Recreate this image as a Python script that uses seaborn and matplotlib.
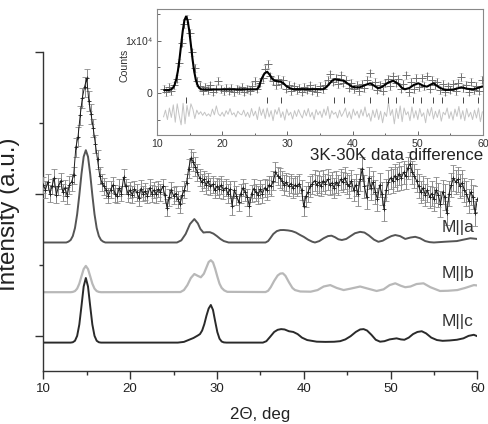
import numpy as np
import matplotlib
matplotlib.use("Agg")
import matplotlib.pyplot as plt
import seaborn as sns
from matplotlib.ticker import MultipleLocator, FixedLocator

# ---------------- main panel: 3K-30K difference data (step 0.25 deg from 10) ----------------
diff_start, diff_step = 10.0, 0.25
diff_y = [
    2.62, 2.55, 2.66, 2.50, 2.60, 2.72, 2.48, 2.60, 2.68, 2.52, 2.58, 2.47, 2.62, 2.66, 2.76, 3.15, 3.30, 3.60, 3.85, 4.00,
    4.12, 3.80, 3.62, 3.42, 3.20, 2.98, 2.75, 2.65, 2.60, 2.55, 2.47, 2.55, 2.62, 2.50, 2.47, 2.58, 2.50, 2.73, 2.60, 2.50,
    2.55, 2.48, 2.56, 2.52, 2.44, 2.57, 2.50, 2.53, 2.47, 2.58, 2.50, 2.55, 2.49, 2.56, 2.52, 2.60, 2.48, 2.30, 2.45, 2.55,
    2.47, 2.50, 2.42, 2.35, 2.48, 2.55, 2.65, 2.85, 3.00, 2.95, 2.88, 2.80, 2.72, 2.66, 2.70, 2.62, 2.67, 2.60, 2.63, 2.55,
    2.60, 2.57, 2.62, 2.55, 2.58, 2.50, 2.56, 2.33, 2.55, 2.47, 2.38, 2.50, 2.58, 2.52, 2.45, 2.32, 2.50, 2.57, 2.52, 2.48,
    2.56, 2.50, 2.58, 2.55, 2.62, 2.60, 2.68, 2.80, 2.75, 2.72, 2.68, 2.62, 2.66, 2.60, 2.64, 2.58, 2.62, 2.60, 2.64, 2.55,
    2.32, 2.46, 2.52, 2.60, 2.64, 2.68, 2.62, 2.66, 2.60, 2.68, 2.64, 2.70, 2.62, 2.65, 2.58, 2.66, 2.62, 2.70, 2.66, 2.72,
    2.64, 2.60, 2.68, 2.55, 2.62, 2.50, 2.70, 2.85, 2.60, 2.45, 2.72, 2.58, 2.66, 2.52, 2.42, 2.62, 2.50, 2.28, 2.55, 2.66,
    2.72, 2.68, 2.75, 2.70, 2.78, 2.72, 2.80, 2.74, 2.86, 2.92, 2.80, 2.75, 2.68, 2.60, 2.52, 2.58, 2.48, 2.55, 2.45, 2.50,
    2.42, 2.55, 2.48, 2.35, 2.52, 2.45, 2.22, 2.50, 2.62, 2.72, 2.66, 2.70, 2.60, 2.65, 2.55, 2.50, 2.40, 2.52, 2.45, 2.22,
    2.42,
]
diff_err = [
    0.11, 0.12, 0.11, 0.12, 0.11, 0.12, 0.11, 0.12, 0.11, 0.12, 0.11, 0.12, 0.12, 0.12, 0.12, 0.13, 0.13, 0.13, 0.14, 0.14,
    0.14, 0.14, 0.14, 0.13, 0.13, 0.13, 0.12, 0.12, 0.12, 0.12, 0.11, 0.12, 0.11, 0.12, 0.11, 0.12, 0.11, 0.12, 0.11, 0.12,
    0.11, 0.12, 0.11, 0.12, 0.11, 0.12, 0.11, 0.12, 0.11, 0.12, 0.12, 0.11, 0.12, 0.11, 0.12, 0.11, 0.12, 0.12, 0.12, 0.11,
    0.12, 0.11, 0.12, 0.12, 0.12, 0.12, 0.12, 0.13, 0.13, 0.13, 0.13, 0.12, 0.12, 0.12, 0.12, 0.12, 0.12, 0.12, 0.12, 0.12,
    0.12, 0.13, 0.12, 0.13, 0.12, 0.13, 0.12, 0.13, 0.12, 0.13, 0.12, 0.13, 0.12, 0.13, 0.12, 0.13, 0.12, 0.13, 0.12, 0.13,
    0.13, 0.14, 0.13, 0.14, 0.13, 0.14, 0.13, 0.14, 0.13, 0.14, 0.13, 0.14, 0.13, 0.14, 0.13, 0.14, 0.13, 0.14, 0.13, 0.14,
    0.14, 0.15, 0.14, 0.15, 0.14, 0.15, 0.14, 0.15, 0.14, 0.15, 0.14, 0.15, 0.14, 0.15, 0.14, 0.15, 0.14, 0.15, 0.14, 0.15,
    0.15, 0.16, 0.15, 0.16, 0.15, 0.17, 0.16, 0.17, 0.16, 0.17, 0.16, 0.17, 0.16, 0.17, 0.16, 0.17, 0.16, 0.17, 0.16, 0.17,
    0.16, 0.17, 0.16, 0.17, 0.16, 0.17, 0.16, 0.17, 0.16, 0.17, 0.16, 0.17, 0.16, 0.17, 0.16, 0.17, 0.16, 0.17, 0.16, 0.17,
    0.17, 0.18, 0.17, 0.18, 0.17, 0.18, 0.17, 0.18, 0.17, 0.18, 0.17, 0.18, 0.17, 0.18, 0.17, 0.18, 0.17, 0.18, 0.17, 0.18,
    0.18,
]

# ---------------- simulated patterns (2theta, intensity a.u.) ----------------
ma_pts = [(10.0, 1.81), (12.65, 1.81), (12.9, 1.822), (13.15, 1.845), (13.4, 1.901), (13.65, 2.014), (13.9, 2.208),
          (14.15, 2.478), (14.4, 2.777), (14.65, 3.018), (14.9, 3.11), (15.15, 3.018), (15.4, 2.777), (15.65, 2.478),
          (15.9, 2.208), (16.15, 2.014), (16.4, 1.901), (16.65, 1.845), (16.9, 1.822), (17.15, 1.81), (25.4, 1.81),
          (25.9, 1.84), (26.4, 1.93), (26.9, 2.07), (27.4, 2.14), (27.8, 2.08), (28.1, 2.0), (28.45, 1.95),
          (28.8, 1.955), (29.2, 1.955), (29.6, 1.935), (30.0, 1.9), (30.4, 1.86), (30.8, 1.83), (31.35, 1.81),
          (35.6, 1.81), (35.9, 1.83), (36.15, 1.87), (36.5, 1.93), (36.9, 1.97), (37.3, 1.985), (37.7, 1.986),
          (38.2, 1.98), (38.65, 1.97), (39.1, 1.95), (39.6, 1.915), (40.0, 1.89), (40.5, 1.85), (41.0, 1.82),
          (41.3, 1.81), (41.8, 1.83), (42.3, 1.87), (42.8, 1.9), (43.2, 1.906), (43.6, 1.885), (44.0, 1.855),
          (44.4, 1.845), (44.9, 1.86), (45.4, 1.9), (45.9, 1.94), (46.5, 1.96), (47.0, 1.95), (47.5, 1.91),
          (48.1, 1.85), (48.6, 1.82), (49.1, 1.835), (49.6, 1.87), (50.1, 1.9), (50.55, 1.915), (51.1, 1.9),
          (51.7, 1.86), (52.3, 1.88), (52.85, 1.89), (53.4, 1.87), (54.0, 1.83), (54.5, 1.815), (55.0, 1.81),
          (55.6, 1.815), (56.2, 1.82), (56.9, 1.825), (57.65, 1.83), (58.4, 1.85), (59.2, 1.87), (60.0, 1.86)]
mb_pts = [(10.0, 1.11), (13.15, 1.11), (13.4, 1.114), (13.65, 1.126), (13.9, 1.16), (14.15, 1.23), (14.4, 1.335),
          (14.65, 1.436), (14.9, 1.48), (15.15, 1.436), (15.4, 1.335), (15.65, 1.23), (15.9, 1.16), (16.15, 1.126),
          (16.4, 1.114), (16.65, 1.11), (25.8, 1.112), (26.2, 1.14), (26.6, 1.21), (27.0, 1.31), (27.4, 1.366),
          (27.8, 1.34), (28.15, 1.32), (28.5, 1.37), (28.8, 1.46), (29.05, 1.535), (29.3, 1.56), (29.55, 1.53),
          (29.8, 1.44), (30.05, 1.33), (30.3, 1.23), (30.55, 1.17), (30.85, 1.135), (31.2, 1.115), (35.6, 1.112),
          (35.9, 1.13), (36.2, 1.18), (36.6, 1.27), (37.0, 1.345), (37.3, 1.372), (37.6, 1.376), (37.9, 1.34),
          (38.3, 1.25), (38.7, 1.17), (39.0, 1.14), (39.6, 1.12), (40.8, 1.117), (41.6, 1.14), (42.3, 1.19),
          (43.06, 1.21), (43.8, 1.17), (44.6, 1.14), (45.4, 1.16), (46.5, 1.19), (47.4, 1.16), (48.4, 1.127),
          (49.2, 1.15), (49.9, 1.21), (50.55, 1.235), (51.2, 1.2), (51.7, 1.18), (52.3, 1.19), (53.0, 1.225),
          (53.8, 1.235), (54.6, 1.18), (55.7, 1.127), (56.6, 1.13), (57.7, 1.14), (58.6, 1.17), (59.6, 1.21),
          (60.0, 1.205)]
mc_pts = [(10.0, 0.40), (13.15, 0.40), (13.4, 0.405), (13.65, 0.426), (13.9, 0.495), (14.15, 0.655), (14.4, 0.917),
          (14.65, 1.19), (14.9, 1.31), (15.15, 1.19), (15.4, 0.917), (15.65, 0.655), (15.9, 0.495), (16.15, 0.426),
          (16.4, 0.405), (16.65, 0.40), (25.5, 0.40), (26.2, 0.41), (26.8, 0.44), (27.3, 0.465), (27.8, 0.50),
          (28.05, 0.52), (28.3, 0.57), (28.55, 0.66), (28.8, 0.78), (29.05, 0.88), (29.3, 0.93), (29.55, 0.86),
          (29.8, 0.70), (30.05, 0.548), (30.3, 0.455), (30.55, 0.415), (30.8, 0.403), (31.1, 0.40), (35.3, 0.40),
          (35.7, 0.42), (36.15, 0.484), (36.6, 0.55), (37.0, 0.58), (37.4, 0.59), (37.8, 0.585), (38.3, 0.56),
          (38.8, 0.55), (39.3, 0.52), (39.8, 0.47), (40.4, 0.436), (41.5, 0.413), (42.5, 0.41), (43.5, 0.412),
          (44.2, 0.42), (44.8, 0.445), (45.4, 0.49), (46.0, 0.55), (46.5, 0.585), (46.9, 0.59), (47.3, 0.57),
          (47.8, 0.51), (48.3, 0.44), (48.8, 0.413), (49.3, 0.42), (49.9, 0.445), (50.7, 0.46), (51.2, 0.445),
          (51.6, 0.44), (52.1, 0.47), (52.6, 0.52), (53.1, 0.55), (53.6, 0.56), (54.1, 0.53), (54.7, 0.47),
          (55.35, 0.436), (56.0, 0.425), (56.8, 0.43), (57.65, 0.44), (58.4, 0.46), (59.0, 0.495), (59.6, 0.51),
          (60.0, 0.49)]
curve_labels = ["M||a", "M||b", "M||c"]

# ---------------- inset: counts in thousands ----------------
obs_start, obs_step = 11.0, 0.4
obs_counts_k = [
    0.9, 0.2, 1.2, 0.4, 1.5, 2.8, 5.8, 9.6, 13.2, 14.2,
    11.5, 7.8, 4.8, 2.4, 1.4, 0.5, 1.2, 0.6, 1.5, 0.3,
    0.9, 2.4, 0.8, 0.4, 1.1, 0.5, 1.0, 0.2, 0.9, 0.6,
    1.2, 0.3, 0.8, 0.5, 1.4, 2.4, 0.9, 2.0, 3.0, 4.6,
    5.6, 3.2, 2.4, 1.6, 2.8, 1.8, 2.5, 0.9, 1.6, 0.4,
    1.3, 0.6, 1.0, 0.3, 1.2, 0.7, 1.5, 0.5, 1.1, 0.2,
    1.4, 0.8, 1.6, 2.6, 3.6, 2.2, 3.0, 1.8, 3.4, 2.0,
    2.6, 1.1, 2.0, 0.8, 1.6, 0.4, 1.8, 1.0, 2.6, 3.8,
    1.5, 2.2, 0.7, 1.6, 0.5, 1.9, 2.8, 1.4, 3.2, 2.0,
    2.7, 0.9, 1.8, 3.4, 0.2, 2.2, 0.8, 2.9, 1.2, 3.0,
    1.4, 3.2, 0.9, 2.6, 1.6, 2.2, 0.6, 1.8, 0.3, 1.3,
    0.7, 1.8, 0.4, 2.0, 3.1, 1.0, 1.6, 0.3, 2.2, 0.6,
    1.4, 0.5, 2.6,
]
fit_pts = [(11.1, 0.6), (11.7, 0.62), (11.95, 0.66), (12.2, 0.77), (12.45, 1.04), (12.7, 1.59), (12.95, 2.6),
           (13.2, 4.21), (13.45, 6.49), (13.7, 9.2), (13.95, 11.87), (14.2, 13.86), (14.45, 14.6), (14.7, 13.86),
           (14.95, 11.87), (15.2, 9.2), (15.45, 6.49), (15.7, 4.21), (15.95, 2.6), (16.2, 1.59), (16.45, 1.04),
           (16.7, 0.8), (17.0, 0.72), (25.3, 0.76), (25.6, 1.1), (25.8, 1.9), (26.1, 2.9), (26.5, 3.8), (26.9, 4.1),
           (27.3, 3.5), (27.7, 2.7), (28.1, 2.4), (28.5, 2.3), (29.0, 2.2), (29.4, 1.9), (29.8, 1.4), (30.4, 0.95),
           (30.9, 0.78), (35.5, 0.78), (36.0, 1.2), (36.5, 1.9), (36.9, 2.45), (37.3, 2.66), (37.8, 2.55),
           (38.6, 2.4), (39.3, 1.8), (39.9, 1.26), (40.5, 1.12), (41.1, 1.14), (41.9, 1.55), (42.7, 1.9),
           (43.3, 1.45), (43.9, 0.95), (44.5, 1.2), (45.4, 2.0), (46.2, 2.4), (47.0, 1.8), (47.5, 1.1), (48.0, 0.76),
           (48.7, 1.0), (49.4, 1.6), (50.1, 1.9), (50.8, 1.45), (51.4, 1.26), (51.9, 1.6), (52.4, 1.9), (53.3, 1.1),
           (54.2, 0.63), (55.4, 0.7), (56.0, 0.9), (56.7, 1.14), (57.6, 0.85), (58.5, 0.76), (59.2, 1.0),
           (59.8, 1.26), (60.0, 1.3)]
res_start, res_step = 11.0, 0.3
residual_k = [
    -4.5, -3.2, -5.0, -2.8, -4.6, -2.2, -5.5, -2.0, -4.2, -6.0,
    -1.9, -5.8, -2.3, -4.4, -2.0, -3.0, -4.8, -3.2, -4.0, -3.5,
    -4.2, -3.6, -4.3, -3.9, -4.4, -3.0, -4.1, -2.4, -3.9, -4.3,
    -3.6, -4.4, -3.3, -4.0, -2.9, -4.1, -3.7, -4.5, -3.4, -3.9,
    -4.1, -3.2, -4.4, -3.6, -4.6, -2.9, -4.3, -3.4, -5.0, -2.6,
    -4.2, -3.0, -4.8, -2.8, -4.5, -3.3, -5.2, -3.1, -4.0, -2.7,
    -4.6, -3.5, -5.1, -3.0, -4.2, -3.6, -4.9, -3.3, -4.4, -3.1,
    -4.0, -4.7, -3.2, -4.3, -2.9, -4.5, -3.6, -5.0, -3.1, -4.1,
    -3.4, -4.6, -3.0, -4.2, -2.5, -4.8, -3.3, -4.0, -3.6, -4.7,
    -3.2, -4.4, -3.7, -2.8, -4.6, -3.5, -4.9, -3.0, -4.2, -3.4,
    -4.7, -3.1, -4.3, -2.6, -4.5, -3.8, -5.3, -3.2, -4.6, -3.0,
    -5.0, -3.4, -5.6, -3.6, -4.4, -1.7, -4.2, -3.1, -5.8, -2.9,
    -4.8, -2.4, -5.4, -2.8, -4.1, -3.5, -5.2, -2.6, -4.7, -3.3,
    -5.0, -2.9, -4.4, -3.7, -5.6, -3.0, -4.3, -2.7, -4.9, -3.4,
    -4.6, -3.1, -5.3, -3.6, -4.1, -2.8, -4.8, -3.5, -5.1, -3.0,
    -4.4, -2.5, -4.9, -3.3, -5.2, -2.9, -4.5, -3.6, -5.0, -3.2,
    -4.7, -2.8, -5.4, -3.5,
]
bragg_pos = [14.45, 26.9, 28.97, 37.2, 38.7, 42.7, 45.4, 46.7, 49.3, 50.5, 52.4, 53.7, 57.0, 59.3]
inset_xticks = [10, 20, 30, 40, 50, 60]
inset_yticks_k = [0, 10]
inset_yticklabels = ["0", "1x10\u2074"]

# ---------------- figure ----------------
sns.set_style("ticks")
plt.rcParams['font.family'] = ['Liberation Sans', 'DejaVu Sans']
W, H = 488, 424
fig = plt.figure(figsize=(W / 100, H / 100), dpi=100)

ax = fig.add_axes([43.3 / W, 1 - 371 / H, 434 / W, 319.5 / H])
dx = diff_start + diff_step * np.arange(len(diff_y))
ax.errorbar(dx, diff_y, yerr=diff_err, fmt='-', color='#1a1a1a', lw=0.7, marker='+', ms=3.5, mew=0.6,
            ecolor='#8a8a8a', elinewidth=0.7, capsize=2.2, capthick=0.7, zorder=3)

for pts, col, lw in [(ma_pts, '#555555', 1.4), (mb_pts, '#b8b8b8', 1.6), (mc_pts, '#2a2a2a', 1.4)]:
    xs, ys = zip(*pts)
    sns.lineplot(x=list(xs), y=list(ys), ax=ax, color=col, lw=lw, sort=False, estimator=None)

ax.set_xlim(10, 60)
ax.set_ylim(0, 4.5)
for s in ['top', 'right']:
    ax.spines[s].set_visible(False)
for s in ['left', 'bottom']:
    ax.spines[s].set_color('#333333')
    ax.spines[s].set_linewidth(1.0)
ax.xaxis.set_major_locator(MultipleLocator(10))
ax.xaxis.set_minor_locator(MultipleLocator(5))
ax.yaxis.set_major_locator(FixedLocator([0.5, 2.5, 4.5]))
ax.yaxis.set_minor_locator(FixedLocator([1.5, 3.5]))
ax.tick_params(axis='both', which='major', direction='out', length=5.5, width=1.0, color='#333333',
               labelsize=9.5, labelcolor='#222222', pad=3)
ax.tick_params(axis='both', which='minor', direction='out', length=3, width=1.0, color='#333333')
ax.tick_params(axis='y', labelleft=False)

ax.set_xlabel("2\u0398, deg", fontsize=12.2, color='#222222')
ax.xaxis.label.set_va('center')
ax.xaxis.set_label_coords((260 - 43.3) / 434, (371 - 415) / 319.5)
ax.set_ylabel("Intensity (a.u.)", fontsize=17.5, color='#222222')
ax.yaxis.label.set_va('center')
ax.yaxis.set_label_coords((9.5 - 43.3) / 434, (371 - 214.5) / 319.5)

fig.text(396.5 / W, 1 - 156 / H, "3K-30K data difference", ha='center', va='center', fontsize=12.2, color='#222222')
for lab, yp in zip(curve_labels, [227.5, 273.3, 321.5]):
    fig.text(442 / W, 1 - yp / H, lab, ha='left', va='center', fontsize=12.5, color='#333333')

# ---------------- inset ----------------
axi = fig.add_axes([157 / W, 1 - 135 / H, 326 / W, 125.7 / H])
axi.set_facecolor('white')
ox = obs_start + obs_step * np.arange(len(obs_counts_k))
axi.errorbar(ox, obs_counts_k, yerr=0.7, fmt='none', ecolor='#cccccc', elinewidth=0.5, capsize=1.2, capthick=0.5)
sns.scatterplot(x=ox, y=obs_counts_k, ax=axi, marker='+', color='#707070', s=32, linewidth=0.7, zorder=3)
fx, fy = zip(*fit_pts)
sns.lineplot(x=list(fx), y=list(fy), ax=axi, color='black', lw=1.5, sort=False, estimator=None, zorder=4)
rx = res_start + res_step * np.arange(len(residual_k))
sns.lineplot(x=rx, y=residual_k, ax=axi, color='#c4c4c4', lw=0.7, sort=False, estimator=None)
axi.vlines(bragg_pos, -1.8, -0.7, color='#444444', lw=0.7)

axi.set_xlim(10, 60)
axi.set_ylim(-7.93, 15.97)
for s in axi.spines.values():
    s.set_color('#888888')
    s.set_linewidth(0.8)
axi.xaxis.set_major_locator(FixedLocator(inset_xticks))
axi.xaxis.set_minor_locator(MultipleLocator(5))
axi.yaxis.set_major_locator(FixedLocator(inset_yticks_k))
axi.yaxis.set_minor_locator(FixedLocator([-5, 5, 15]))
axi.set_xticklabels([str(t) for t in inset_xticks])
axi.set_yticklabels(inset_yticklabels)
axi.tick_params(axis='both', which='major', direction='in', length=3, width=0.7, color='#666666',
                labelsize=7.6, labelcolor='#333333', pad=3)
axi.tick_params(axis='both', which='minor', direction='in', length=1.8, width=0.7, color='#666666')
axi.set_ylabel("Counts", fontsize=7.6, color='#333333')
axi.yaxis.label.set_va('center')
axi.yaxis.set_label_coords((124 - 157) / 326, (135 - 65) / 125.7)
axi.set_xlabel("")

fig.savefig("out.png", dpi=100)
